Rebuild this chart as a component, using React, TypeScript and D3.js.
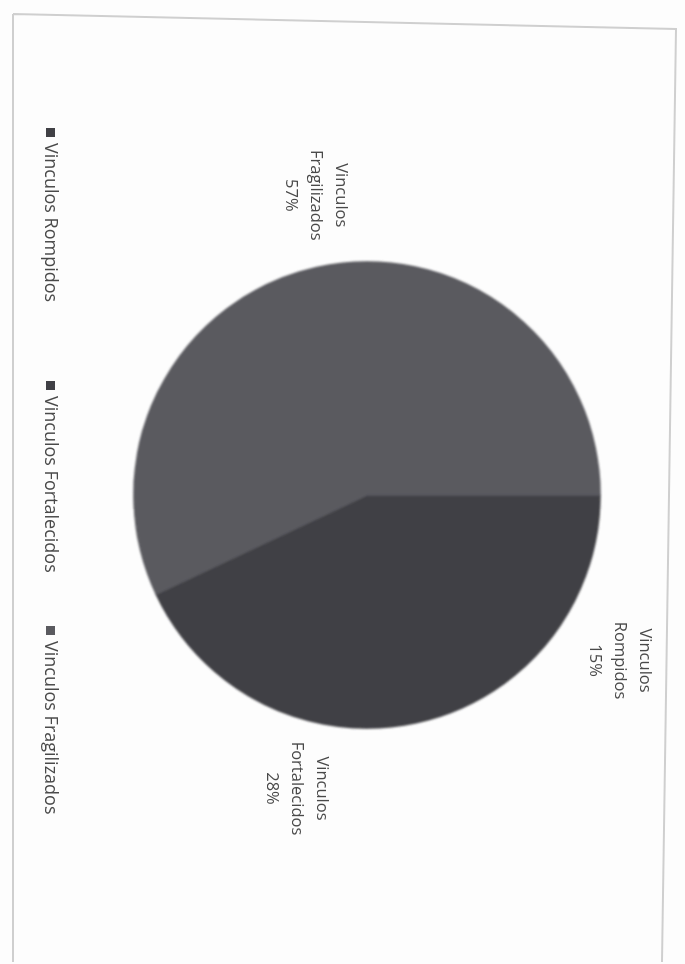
import React from "react";
import * as d3 from "d3";

const categories = ["Vinculos Rompidos", "Vinculos Fortalecidos", "Vinculos Fragilizados"];
const labelLines = [["Vinculos", "Rompidos"], ["Vinculos", "Fortalecidos"], ["Vinculos", "Fragilizados"]];
const values = [15, 28, 57];
const colors = ["#404045", "#404045", "#5a5a5f"];
const legendOffsets = [132, 385, 630];

export default function App() {
  const W = 685;
  const H = 964;
  const cx = 495; // unrotated coords
  const cy = 318;
  const r = 233;
  const pie = d3.pie<number>().sort(null).value((d) => d);
  const arcs = pie(values);
  const arc = d3.arc<d3.PieArcDatum<number>>().innerRadius(0).outerRadius(r);
  const labelArc = d3.arc<d3.PieArcDatum<number>>().innerRadius(303).outerRadius(303);
  const labelNudge: [number, number][] = [[28, 22], [0, 0], [-4, -10]];
  const total = d3.sum(values);
  const fmt = (v: number) => `${Math.round((v / total) * 100)}%`;
  const font = "'Open Sans', 'DejaVu Sans', sans-serif";

  return (
    <svg width={W} height={H} style={{ position: "absolute", left: 0, top: 0, background: "#fff" }}>
      <defs>
        <filter id="soft" x="-10%" y="-10%" width="120%" height="120%">
          <feGaussianBlur stdDeviation="1.1" />
        </filter>
        <filter id="softText">
          <feGaussianBlur stdDeviation="0.45" />
        </filter>
      </defs>
      <rect x={0} y={0} width={W} height={H} fill="#fdfdfd" />
      <path d="M13,14 L676,29 L662,962 M13,14 L13,962" fill="none" stroke="#cfcfcf" strokeWidth={2} />
      <g transform={`translate(${W},0) rotate(90)`}>
        <g transform={`translate(${cx},${cy})`} filter="url(#soft)">
          {arcs.map((a, i) => (
            <path key={i} d={arc(a) || ""} fill={colors[i]} stroke={colors[i]} strokeWidth={1.5} strokeLinejoin="round" />
          ))}
        </g>
        <g transform={`translate(${cx},${cy})`} filter="url(#softText)">
          {arcs.map((a, i) => {
            const [cxl, cyl] = labelArc.centroid(a);
            const lx = cxl + labelNudge[i][0];
            const ly = cyl + labelNudge[i][1];
            const lines = [...labelLines[i], fmt(values[i])];
            return (
              <text key={i} x={lx} y={ly - 25} textAnchor="middle" fontFamily={font} fontSize={16.5} fill="#4a4a4a">
                {lines.map((t, j) => (
                  <tspan key={j} x={lx} dy={j === 0 ? 0 : 25}>{t}</tspan>
                ))}
              </text>
            );
          })}
        </g>
        <g filter="url(#softText)">
          {categories.map((c, i) => (
            <g key={c} transform={`translate(${legendOffsets[i]},${W - 50})`}>
              <rect x={-4} y={-5} width={9} height={9} fill={colors[i]} />
              <text x={11} y={0} dominantBaseline="middle" fontFamily={font} fontSize={18} fill="#4a4a4a">{c}</text>
            </g>
          ))}
        </g>
      </g>
    </svg>
  );
}
